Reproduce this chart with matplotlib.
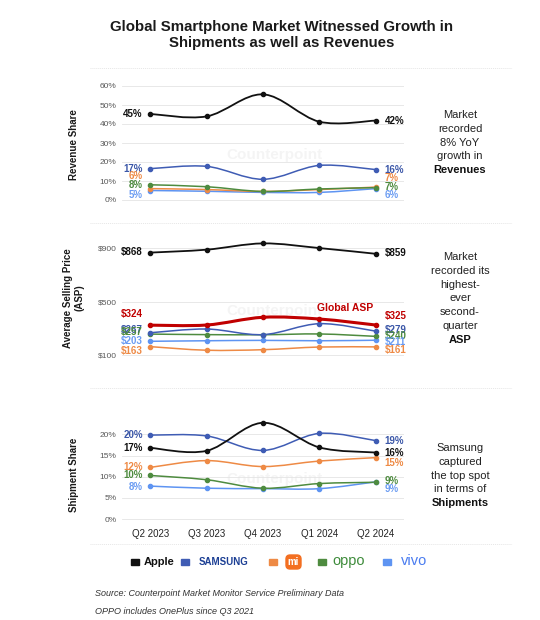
import matplotlib
matplotlib.use("Agg")
import matplotlib.pyplot as plt
from matplotlib.path import Path
from matplotlib.patches import PathPatch, Rectangle, FancyBboxPatch

plt.rcParams['font.family'] = ['Liberation Sans', 'DejaVu Sans']

# -- data --
quarters = ["Q2 2023", "Q3 2023", "Q4 2023", "Q1 2024", "Q2 2024"]
brands = ["Apple", "Samsung", "Xiaomi", "OPPO", "vivo"]

revenue_share = {
    "Apple":   [45.3, 44.0, 55.6, 41.2, 41.8],
    "Samsung": [16.5, 17.7, 10.9, 18.2, 16.0],
    "Xiaomi":  [6.0, 5.5, 4.5, 5.5, 6.8],
    "OPPO":    [8.0, 7.0, 4.5, 5.8, 6.5],
    "vivo":    [5.0, 4.6, 4.0, 4.0, 6.0],
}
revenue_labels = {
    "Apple": ("45%", "42%"), "Samsung": ("17%", "16%"), "Xiaomi": ("6%", "7%"),
    "OPPO": ("8%", "7%"), "vivo": ("5%", "6%"),
}

asp = {
    "Apple":   [868, 890, 937, 902, 859],
    "Samsung": [267, 295, 253, 335, 279],
    "OPPO":    [257, 253, 252, 258, 240],
    "vivo":    [203, 207, 210, 207, 211],
    "Xiaomi":  [163, 136, 140, 160, 161],
}
global_asp = [324, 325, 383, 370, 325]
asp_labels = {
    "Apple": ("$868", "$859"), "Samsung": ("$267", "$279"), "OPPO": ("$257", "$240"),
    "vivo": ("$203", "$211"), "Xiaomi": ("$163", "$161"),
}

shipment_share = {
    "Apple":   [16.8, 16.1, 22.7, 16.9, 15.7],
    "Samsung": [19.8, 19.6, 16.2, 20.2, 18.5],
    "Xiaomi":  [12.2, 13.8, 12.4, 13.7, 14.5],
    "OPPO":    [10.3, 9.3, 7.3, 8.4, 8.7],
    "vivo":    [7.8, 7.3, 7.2, 7.2, 8.8],
}
shipment_labels = {
    "Apple": ("17%", "16%"), "Samsung": ("20%", "19%"), "Xiaomi": ("12%", "15%"),
    "OPPO": ("10%", "9%"), "vivo": ("8%", "9%"),
}

colors = {
    "Apple": "#111111", "Samsung": "#3F5CB4", "Xiaomi": "#EE8A45",
    "OPPO": "#4E8B3F", "vivo": "#5E94F2",
}
label_colors = {
    "Apple": "#111111", "Samsung": "#3B57A8", "Xiaomi": "#EE8A45",
    "OPPO": "#4E8B3F", "vivo": "#6B9CF2",
}
ASP_RED = "#C00000"

W, H = 540, 620


def px_axes(fig, top, bottom, left=122, right=404):
    # axes rectangle given in pixel coords of the 540x620 canvas
    return fig.add_axes([left / W, 1 - bottom / H, (right - left) / W, (bottom - top) / H])


def smooth_line(ax, ys, color, lw):
    # Excel-style smoothed line: Catmull-Rom segments as cubic Beziers
    xs = list(range(len(ys)))
    pts = list(zip(xs, ys))
    verts = [pts[0]]
    codes = [Path.MOVETO]
    n = len(pts)
    for i in range(n - 1):
        p0 = pts[max(i - 1, 0)]
        p1 = pts[i]
        p2 = pts[i + 1]
        p3 = pts[min(i + 2, n - 1)]
        c1 = (p1[0] + (p2[0] - p0[0]) / 6, p1[1] + (p2[1] - p0[1]) / 6)
        c2 = (p2[0] - (p3[0] - p1[0]) / 6, p2[1] - (p3[1] - p1[1]) / 6)
        verts += [c1, c2, p2]
        codes += [Path.CURVE4] * 3
    ax.add_patch(PathPatch(Path(verts, codes), fill=False, edgecolor=color,
                           lw=lw, transform=ax.transData, capstyle="round"))
    ax.plot(xs, ys, "o", color=color, ms=3, zorder=3)


def style_axes(ax, ylim, ticks, ticklabels, show_x=False):
    ax.set_xlim(-0.5, 4.5)
    ax.set_ylim(*ylim)
    ax.set_yticks(ticks)
    ax.set_yticklabels(ticklabels, fontsize=6, color="#595959")
    ax.grid(axis="y", color="#E4E4E4", lw=0.6)
    ax.set_axisbelow(True)
    for s in ax.spines.values():
        s.set_visible(False)
    ax.tick_params(length=0, pad=4)
    ax.set_xticks(range(len(quarters)))
    if show_x:
        ax.set_xticklabels(quarters, fontsize=7, color="#222222")
    else:
        ax.set_xticklabels([])
    # faint watermark
    ax.text(2.2, sum(ylim) / 2 - (ylim[1] - ylim[0]) * 0.1, "Counterpoint",
            ha="center", va="center", fontsize=11, fontweight="bold",
            color="#999999", alpha=0.1, zorder=0)


def end_labels(ax, labels, ypos, size=7):
    for b, (lt, rt) in labels.items():
        yl, yr = ypos[b]
        ax.text(-0.13, yl, lt, ha="right", va="center", fontsize=size,
                fontweight="bold", color=label_colors[b])
        ax.text(4.16, yr, rt, ha="left", va="center", fontsize=size,
                fontweight="bold", color=label_colors[b])


fig = plt.figure(figsize=(W / 100, H / 100), dpi=100)

# overlay in pixel coords for separators, legend and notes
over = fig.add_axes([0, 0, 1, 1])
over.set_xlim(0, W)
over.set_ylim(H, 0)
over.axis("off")
for yy in (68, 223, 388, 544):
    over.plot([90, 512], [yy, yy], color="#E6E6E6", lw=0.7, ls=(0, (1, 1)))

fig.text(282 / W, 1 - 35 / H,
         "Global Smartphone Market Witnessed Growth in\nShipments as well as Revenues",
         ha="center", va="center", fontsize=10.8, fontweight="bold",
         color="#1A1A1A", linespacing=1.25)

# -- revenue share --
ax1 = px_axes(fig, 82.2, 203.8)
style_axes(ax1, (-2, 62), range(0, 61, 10), [f"{v}%" for v in range(0, 61, 10)])
for b in ["vivo", "Xiaomi", "OPPO", "Samsung", "Apple"]:
    smooth_line(ax1, revenue_share[b], colors[b], 1.3 if b == "Apple" else 1.1)
end_labels(ax1, revenue_labels, {
    "Apple": (45.3, 41.6), "Samsung": (16.3, 15.8), "Xiaomi": (12.6, 11.8),
    "OPPO": (7.9, 6.9), "vivo": (2.8, 2.6),
})

# -- ASP --
ax2 = px_axes(fig, 235, 361.7)
style_axes(ax2, (50, 1000), [100, 500, 900], ["$100", "$500", "$900"])
for b in ["Xiaomi", "vivo", "OPPO", "Samsung", "Apple"]:
    smooth_line(ax2, asp[b], colors[b], 1.3 if b == "Apple" else 1.1)
smooth_line(ax2, global_asp, ASP_RED, 2.2)
end_labels(ax2, asp_labels, {
    "Apple": (870, 862), "Samsung": (284, 284), "OPPO": (270, 240),
    "vivo": (205, 196), "Xiaomi": (132, 137),
})
ax2.text(-0.13, 406, "$324", ha="right", va="center", fontsize=7,
         fontweight="bold", color=ASP_RED)
ax2.text(4.16, 390, "$325", ha="left", va="center", fontsize=7,
         fontweight="bold", color=ASP_RED)
ax2.text(3.45, 456, "Global ASP", ha="center", va="center", fontsize=7.5,
         fontweight="bold", color=ASP_RED)

# -- shipment share --
ax3 = px_axes(fig, 413, 523.5)
style_axes(ax3, (-1, 25), range(0, 21, 5), [f"{v}%" for v in range(0, 21, 5)],
           show_x=True)
for b in ["vivo", "OPPO", "Xiaomi", "Samsung", "Apple"]:
    smooth_line(ax3, shipment_share[b], colors[b], 1.3 if b == "Apple" else 1.1)
end_labels(ax3, shipment_labels, {
    "Apple": (16.7, 15.7), "Samsung": (19.8, 18.5), "Xiaomi": (12.4, 13.3),
    "OPPO": (10.3, 9.1), "vivo": (7.7, 7.2),
})

# -- y axis titles --
fig.text(74 / W, 1 - 145 / H, "Revenue Share", rotation=90, ha="center",
         va="center", fontsize=7, fontweight="bold", color="#1A1A1A")
fig.text(74 / W, 1 - 298 / H, "Average Selling Price\n(ASP)", rotation=90,
         ha="center", va="center", fontsize=7, fontweight="bold",
         color="#1A1A1A", linespacing=1.2)
fig.text(74 / W, 1 - 475 / H, "Shipment Share", rotation=90, ha="center",
         va="center", fontsize=7, fontweight="bold", color="#1A1A1A")

# -- right-hand comments --
notes = [
    (["Market", "recorded", "8% YoY", "growth in"], "Revenues", 115),
    (["Market", "recorded its", "highest-", "ever", "second-", "quarter"], "ASP", 257),
    (["Samsung", "captured", "the top spot", "in terms of"], "Shipments", 448),
]
for lines, bold, y0 in notes:
    for i, ln in enumerate(lines):
        over.text(460, y0 + i * 13.8, ln, ha="center", va="center",
                  fontsize=8, color="#222222")
    over.text(460, y0 + len(lines) * 13.8, bold, ha="center", va="center",
              fontsize=8, fontweight="bold", color="#111111")

# -- legend --
leg_y = 562
for x0, c in [(131, "#111111"), (181, colors["Samsung"]), (269, colors["Xiaomi"]),
              (318, colors["OPPO"]), (383, colors["vivo"])]:
    over.add_patch(Rectangle((x0, leg_y - 3), 8, 6, color=c))
over.text(144, leg_y, "Apple", ha="left", va="center", fontsize=8,
          fontweight="bold", color="#111111")
over.text(199, leg_y, "SAMSUNG", ha="left", va="center", fontsize=7,
          fontweight="bold", color="#1C3F94")
over.add_patch(FancyBboxPatch((286, leg_y - 7), 15, 14,
                              boxstyle="round,pad=0,rounding_size=4",
                              color="#F36F21"))
over.text(293.5, leg_y, "mi", ha="center", va="center", fontsize=7,
          fontweight="bold", color="white")
over.text(332, leg_y - 1, "oppo", ha="left", va="center", fontsize=10.5,
          color="#3D8B3A")
over.text(401, leg_y - 1, "vivo", ha="left", va="center", fontsize=10.5,
          color="#4A7CF0")

over.text(95, 593, "Source: Counterpoint Market Monitor Service Preliminary Data",
          ha="left", va="center", fontsize=6.5, style="italic", color="#333333")
over.text(95, 611, "OPPO includes OnePlus since Q3 2021", ha="left",
          va="center", fontsize=6.5, style="italic", color="#333333")

fig.savefig("out.png", dpi=100, facecolor="white")
